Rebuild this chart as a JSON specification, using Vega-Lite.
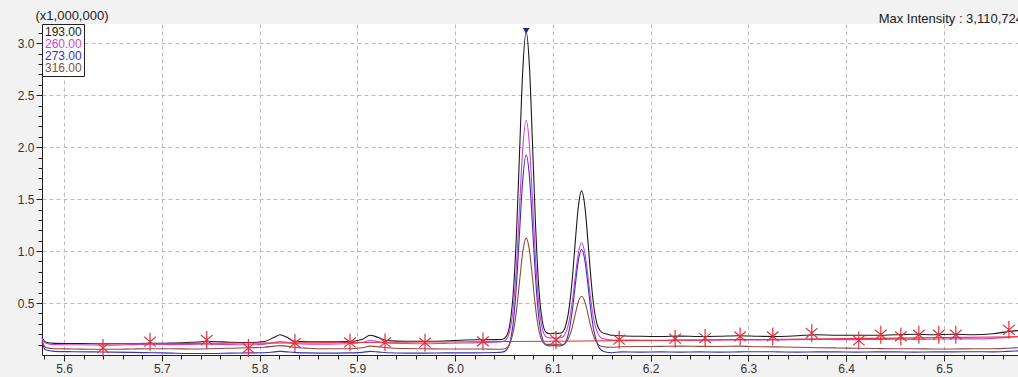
{
  "$schema": "https://vega.github.io/schema/vega-lite/v6.json",
  "width": 976,
  "height": 331,
  "autosize": {"type": "none"},
  "padding": {"left": 42, "top": 24, "right": 0, "bottom": 22},
  "background": "#f2f2f2",
  "config": {
    "font": "Liberation Sans",
    "view": {"fill": "white", "stroke": null},
    "axis": {"labelOverlap": false, "labelBound": false}
  },
  "title": {
    "text": "Max Intensity : 3,110,724",
    "anchor": "end",
    "frame": "group",
    "fontSize": 13,
    "fontWeight": "normal",
    "color": "#222222",
    "offset": -17,
    "dx": 5
  },
  "datasets": {
    "traces": [
      {"time":5.5775,"intensity":0.17,"mz":"193.00"},{"time":5.581,"intensity":0.125,"mz":"193.00"},{"time":5.59,"intensity":0.112,"mz":"193.00"},{"time":5.61,"intensity":0.11,"mz":"193.00"},{"time":5.63,"intensity":0.108,"mz":"193.00"},{"time":5.65,"intensity":0.11,"mz":"193.00"},{"time":5.67,"intensity":0.11,"mz":"193.00"},{"time":5.69,"intensity":0.112,"mz":"193.00"},{"time":5.71,"intensity":0.115,"mz":"193.00"},{"time":5.73,"intensity":0.122,"mz":"193.00"},{"time":5.75,"intensity":0.13,"mz":"193.00"},{"time":5.77,"intensity":0.122,"mz":"193.00"},{"time":5.79,"intensity":0.12,"mz":"193.00"},{"time":5.805,"intensity":0.13,"mz":"193.00"},{"time":5.815,"intensity":0.17,"mz":"193.00"},{"time":5.821,"intensity":0.195,"mz":"193.00"},{"time":5.828,"intensity":0.17,"mz":"193.00"},{"time":5.835,"intensity":0.135,"mz":"193.00"},{"time":5.85,"intensity":0.128,"mz":"193.00"},{"time":5.87,"intensity":0.128,"mz":"193.00"},{"time":5.89,"intensity":0.13,"mz":"193.00"},{"time":5.905,"intensity":0.15,"mz":"193.00"},{"time":5.913,"intensity":0.19,"mz":"193.00"},{"time":5.921,"intensity":0.17,"mz":"193.00"},{"time":5.93,"intensity":0.14,"mz":"193.00"},{"time":5.95,"intensity":0.132,"mz":"193.00"},{"time":5.97,"intensity":0.132,"mz":"193.00"},{"time":5.99,"intensity":0.135,"mz":"193.00"},{"time":6.01,"intensity":0.145,"mz":"193.00"},{"time":6.03,"intensity":0.147,"mz":"193.00"},{"time":6.04,"intensity":0.148,"mz":"193.00"},
      {"time":6.048,"intensity":0.149,"mz":"193.00"},{"time":6.052,"intensity":0.174,"mz":"193.00"},{"time":6.056,"intensity":0.295,"mz":"193.00"},{"time":6.06,"intensity":0.667,"mz":"193.00"},{"time":6.063,"intensity":1.22,"mz":"193.00"},{"time":6.066,"intensity":1.972,"mz":"193.00"},{"time":6.069,"intensity":2.703,"mz":"193.00"},{"time":6.0727,"intensity":3.11,"mz":"193.00"},{"time":6.076,"intensity":2.781,"mz":"193.00"},{"time":6.079,"intensity":2.077,"mz":"193.00"},{"time":6.082,"intensity":1.317,"mz":"193.00"},{"time":6.085,"intensity":0.737,"mz":"193.00"},{"time":6.089,"intensity":0.337,"mz":"193.00"},{"time":6.093,"intensity":0.219,"mz":"193.00"},{"time":6.097,"intensity":0.205,"mz":"193.00"},{"time":6.101,"intensity":0.21,"mz":"193.00"},{"time":6.105,"intensity":0.208,"mz":"193.00"},{"time":6.109,"intensity":0.215,"mz":"193.00"},{"time":6.113,"intensity":0.28,"mz":"193.00"},{"time":6.117,"intensity":0.477,"mz":"193.00"},{"time":6.12,"intensity":0.748,"mz":"193.00"},{"time":6.123,"intensity":1.102,"mz":"193.00"},{"time":6.126,"intensity":1.424,"mz":"193.00"},{"time":6.1294,"intensity":1.58,"mz":"193.00"},{"time":6.133,"intensity":1.407,"mz":"193.00"},{"time":6.136,"intensity":1.078,"mz":"193.00"},{"time":6.139,"intensity":0.727,"mz":"193.00"},{"time":6.142,"intensity":0.457,"mz":"193.00"},{"time":6.146,"intensity":0.274,"mz":"193.00"},{"time":6.15,"intensity":0.218,"mz":"193.00"},{"time":6.155,"intensity":0.202,"mz":"193.00"},{"time":6.16,"intensity":0.19,"mz":"193.00"},
      {"time":6.17,"intensity":0.185,"mz":"193.00"},{"time":6.19,"intensity":0.18,"mz":"193.00"},{"time":6.21,"intensity":0.178,"mz":"193.00"},{"time":6.23,"intensity":0.182,"mz":"193.00"},{"time":6.25,"intensity":0.178,"mz":"193.00"},{"time":6.27,"intensity":0.18,"mz":"193.00"},{"time":6.29,"intensity":0.185,"mz":"193.00"},{"time":6.31,"intensity":0.18,"mz":"193.00"},{"time":6.33,"intensity":0.178,"mz":"193.00"},{"time":6.35,"intensity":0.185,"mz":"193.00"},{"time":6.37,"intensity":0.195,"mz":"193.00"},{"time":6.39,"intensity":0.19,"mz":"193.00"},{"time":6.41,"intensity":0.19,"mz":"193.00"},{"time":6.43,"intensity":0.19,"mz":"193.00"},{"time":6.45,"intensity":0.195,"mz":"193.00"},{"time":6.47,"intensity":0.2,"mz":"193.00"},{"time":6.49,"intensity":0.195,"mz":"193.00"},{"time":6.51,"intensity":0.2,"mz":"193.00"},{"time":6.53,"intensity":0.195,"mz":"193.00"},{"time":6.55,"intensity":0.205,"mz":"193.00"},{"time":6.565,"intensity":0.225,"mz":"193.00"},{"time":6.5757,"intensity":0.235,"mz":"193.00"},

      {"time":5.5775,"intensity":0.16,"mz":"260.00"},{"time":5.581,"intensity":0.115,"mz":"260.00"},{"time":5.59,"intensity":0.1,"mz":"260.00"},{"time":5.61,"intensity":0.098,"mz":"260.00"},{"time":5.63,"intensity":0.096,"mz":"260.00"},{"time":5.65,"intensity":0.095,"mz":"260.00"},{"time":5.67,"intensity":0.1,"mz":"260.00"},{"time":5.69,"intensity":0.105,"mz":"260.00"},{"time":5.71,"intensity":0.1,"mz":"260.00"},{"time":5.73,"intensity":0.102,"mz":"260.00"},{"time":5.75,"intensity":0.105,"mz":"260.00"},{"time":5.77,"intensity":0.1,"mz":"260.00"},{"time":5.79,"intensity":0.098,"mz":"260.00"},{"time":5.805,"intensity":0.105,"mz":"260.00"},{"time":5.815,"intensity":0.12,"mz":"260.00"},{"time":5.821,"intensity":0.13,"mz":"260.00"},{"time":5.828,"intensity":0.122,"mz":"260.00"},{"time":5.835,"intensity":0.11,"mz":"260.00"},{"time":5.85,"intensity":0.105,"mz":"260.00"},{"time":5.87,"intensity":0.105,"mz":"260.00"},{"time":5.89,"intensity":0.108,"mz":"260.00"},{"time":5.905,"intensity":0.12,"mz":"260.00"},{"time":5.913,"intensity":0.14,"mz":"260.00"},{"time":5.921,"intensity":0.13,"mz":"260.00"},{"time":5.93,"intensity":0.115,"mz":"260.00"},{"time":5.95,"intensity":0.11,"mz":"260.00"},{"time":5.97,"intensity":0.108,"mz":"260.00"},{"time":5.99,"intensity":0.112,"mz":"260.00"},{"time":6.01,"intensity":0.115,"mz":"260.00"},{"time":6.03,"intensity":0.12,"mz":"260.00"},{"time":6.04,"intensity":0.122,"mz":"260.00"},
      {"time":6.048,"intensity":0.128,"mz":"260.00"},{"time":6.052,"intensity":0.146,"mz":"260.00"},{"time":6.056,"intensity":0.234,"mz":"260.00"},{"time":6.06,"intensity":0.502,"mz":"260.00"},{"time":6.063,"intensity":0.9,"mz":"260.00"},{"time":6.066,"intensity":1.441,"mz":"260.00"},{"time":6.069,"intensity":1.967,"mz":"260.00"},{"time":6.0727,"intensity":2.26,"mz":"260.00"},{"time":6.076,"intensity":2.023,"mz":"260.00"},{"time":6.079,"intensity":1.517,"mz":"260.00"},{"time":6.082,"intensity":0.966,"mz":"260.00"},{"time":6.085,"intensity":0.55,"mz":"260.00"},{"time":6.089,"intensity":0.26,"mz":"260.00"},{"time":6.093,"intensity":0.175,"mz":"260.00"},{"time":6.097,"intensity":0.164,"mz":"260.00"},{"time":6.101,"intensity":0.165,"mz":"260.00"},{"time":6.105,"intensity":0.162,"mz":"260.00"},{"time":6.109,"intensity":0.168,"mz":"260.00"},{"time":6.113,"intensity":0.21,"mz":"260.00"},{"time":6.117,"intensity":0.344,"mz":"260.00"},{"time":6.12,"intensity":0.527,"mz":"260.00"},{"time":6.123,"intensity":0.762,"mz":"260.00"},{"time":6.126,"intensity":0.976,"mz":"260.00"},{"time":6.1294,"intensity":1.08,"mz":"260.00"},{"time":6.133,"intensity":0.965,"mz":"260.00"},{"time":6.136,"intensity":0.746,"mz":"260.00"},{"time":6.139,"intensity":0.513,"mz":"260.00"},{"time":6.142,"intensity":0.334,"mz":"260.00"},{"time":6.146,"intensity":0.206,"mz":"260.00"},{"time":6.15,"intensity":0.162,"mz":"260.00"},{"time":6.155,"intensity":0.151,"mz":"260.00"},{"time":6.16,"intensity":0.145,"mz":"260.00"},
      {"time":6.17,"intensity":0.145,"mz":"260.00"},{"time":6.19,"intensity":0.142,"mz":"260.00"},{"time":6.21,"intensity":0.14,"mz":"260.00"},{"time":6.23,"intensity":0.145,"mz":"260.00"},{"time":6.25,"intensity":0.142,"mz":"260.00"},{"time":6.27,"intensity":0.145,"mz":"260.00"},{"time":6.29,"intensity":0.148,"mz":"260.00"},{"time":6.31,"intensity":0.145,"mz":"260.00"},{"time":6.33,"intensity":0.145,"mz":"260.00"},{"time":6.35,"intensity":0.148,"mz":"260.00"},{"time":6.37,"intensity":0.15,"mz":"260.00"},{"time":6.39,"intensity":0.148,"mz":"260.00"},{"time":6.41,"intensity":0.148,"mz":"260.00"},{"time":6.43,"intensity":0.15,"mz":"260.00"},{"time":6.45,"intensity":0.152,"mz":"260.00"},{"time":6.47,"intensity":0.15,"mz":"260.00"},{"time":6.49,"intensity":0.152,"mz":"260.00"},{"time":6.51,"intensity":0.155,"mz":"260.00"},{"time":6.53,"intensity":0.155,"mz":"260.00"},{"time":6.55,"intensity":0.16,"mz":"260.00"},{"time":6.565,"intensity":0.17,"mz":"260.00"},{"time":6.5757,"intensity":0.175,"mz":"260.00"},

      {"time":5.5775,"intensity":0.12,"mz":"273.00"},{"time":5.581,"intensity":0.05,"mz":"273.00"},{"time":5.59,"intensity":0.035,"mz":"273.00"},{"time":5.61,"intensity":0.032,"mz":"273.00"},{"time":5.63,"intensity":0.03,"mz":"273.00"},{"time":5.65,"intensity":0.028,"mz":"273.00"},{"time":5.67,"intensity":0.025,"mz":"273.00"},{"time":5.69,"intensity":0.022,"mz":"273.00"},{"time":5.71,"intensity":0.018,"mz":"273.00"},{"time":5.73,"intensity":0.015,"mz":"273.00"},{"time":5.75,"intensity":0.015,"mz":"273.00"},{"time":5.77,"intensity":0.018,"mz":"273.00"},{"time":5.79,"intensity":0.02,"mz":"273.00"},{"time":5.805,"intensity":0.022,"mz":"273.00"},{"time":5.815,"intensity":0.03,"mz":"273.00"},{"time":5.821,"intensity":0.035,"mz":"273.00"},{"time":5.828,"intensity":0.03,"mz":"273.00"},{"time":5.835,"intensity":0.025,"mz":"273.00"},{"time":5.85,"intensity":0.02,"mz":"273.00"},{"time":5.87,"intensity":0.018,"mz":"273.00"},{"time":5.89,"intensity":0.02,"mz":"273.00"},{"time":5.905,"intensity":0.025,"mz":"273.00"},{"time":5.913,"intensity":0.035,"mz":"273.00"},{"time":5.921,"intensity":0.03,"mz":"273.00"},{"time":5.93,"intensity":0.022,"mz":"273.00"},{"time":5.95,"intensity":0.018,"mz":"273.00"},{"time":5.97,"intensity":0.018,"mz":"273.00"},{"time":5.99,"intensity":0.02,"mz":"273.00"},{"time":6.01,"intensity":0.02,"mz":"273.00"},{"time":6.03,"intensity":0.022,"mz":"273.00"},{"time":6.04,"intensity":0.024,"mz":"273.00"},
      {"time":6.048,"intensity":0.028,"mz":"273.00"},{"time":6.052,"intensity":0.043,"mz":"273.00"},{"time":6.056,"intensity":0.118,"mz":"273.00"},{"time":6.06,"intensity":0.357,"mz":"273.00"},{"time":6.063,"intensity":0.712,"mz":"273.00"},{"time":6.066,"intensity":1.194,"mz":"273.00"},{"time":6.069,"intensity":1.664,"mz":"273.00"},{"time":6.0727,"intensity":1.925,"mz":"273.00"},{"time":6.076,"intensity":1.719,"mz":"273.00"},{"time":6.079,"intensity":1.267,"mz":"273.00"},{"time":6.082,"intensity":0.781,"mz":"273.00"},{"time":6.085,"intensity":0.415,"mz":"273.00"},{"time":6.089,"intensity":0.167,"mz":"273.00"},{"time":6.093,"intensity":0.097,"mz":"273.00"},{"time":6.097,"intensity":0.088,"mz":"273.00"},{"time":6.101,"intensity":0.09,"mz":"273.00"},{"time":6.105,"intensity":0.087,"mz":"273.00"},{"time":6.109,"intensity":0.089,"mz":"273.00"},{"time":6.113,"intensity":0.123,"mz":"273.00"},{"time":6.117,"intensity":0.254,"mz":"273.00"},{"time":6.12,"intensity":0.438,"mz":"273.00"},{"time":6.123,"intensity":0.68,"mz":"273.00"},{"time":6.126,"intensity":0.906,"mz":"273.00"},{"time":6.1294,"intensity":1.015,"mz":"273.00"},{"time":6.133,"intensity":0.894,"mz":"273.00"},{"time":6.136,"intensity":0.663,"mz":"273.00"},{"time":6.139,"intensity":0.418,"mz":"273.00"},{"time":6.142,"intensity":0.229,"mz":"273.00"},{"time":6.146,"intensity":0.094,"mz":"273.00"},{"time":6.15,"intensity":0.043,"mz":"273.00"},{"time":6.155,"intensity":0.026,"mz":"273.00"},{"time":6.16,"intensity":0.022,"mz":"273.00"},
      {"time":6.17,"intensity":0.03,"mz":"273.00"},{"time":6.19,"intensity":0.028,"mz":"273.00"},{"time":6.21,"intensity":0.03,"mz":"273.00"},{"time":6.23,"intensity":0.028,"mz":"273.00"},{"time":6.25,"intensity":0.03,"mz":"273.00"},{"time":6.27,"intensity":0.028,"mz":"273.00"},{"time":6.29,"intensity":0.03,"mz":"273.00"},{"time":6.31,"intensity":0.032,"mz":"273.00"},{"time":6.33,"intensity":0.03,"mz":"273.00"},{"time":6.35,"intensity":0.028,"mz":"273.00"},{"time":6.37,"intensity":0.03,"mz":"273.00"},{"time":6.39,"intensity":0.03,"mz":"273.00"},{"time":6.41,"intensity":0.028,"mz":"273.00"},{"time":6.43,"intensity":0.03,"mz":"273.00"},{"time":6.45,"intensity":0.03,"mz":"273.00"},{"time":6.47,"intensity":0.028,"mz":"273.00"},{"time":6.49,"intensity":0.03,"mz":"273.00"},{"time":6.51,"intensity":0.03,"mz":"273.00"},{"time":6.53,"intensity":0.032,"mz":"273.00"},{"time":6.55,"intensity":0.03,"mz":"273.00"},{"time":6.565,"intensity":0.035,"mz":"273.00"},{"time":6.5757,"intensity":0.04,"mz":"273.00"},

      {"time":5.5775,"intensity":0.14,"mz":"316.00"},{"time":5.581,"intensity":0.075,"mz":"316.00"},{"time":5.59,"intensity":0.06,"mz":"316.00"},{"time":5.61,"intensity":0.058,"mz":"316.00"},{"time":5.63,"intensity":0.055,"mz":"316.00"},{"time":5.65,"intensity":0.055,"mz":"316.00"},{"time":5.67,"intensity":0.058,"mz":"316.00"},{"time":5.69,"intensity":0.06,"mz":"316.00"},{"time":5.71,"intensity":0.06,"mz":"316.00"},{"time":5.73,"intensity":0.058,"mz":"316.00"},{"time":5.75,"intensity":0.06,"mz":"316.00"},{"time":5.77,"intensity":0.065,"mz":"316.00"},{"time":5.79,"intensity":0.07,"mz":"316.00"},{"time":5.805,"intensity":0.075,"mz":"316.00"},{"time":5.815,"intensity":0.085,"mz":"316.00"},{"time":5.821,"intensity":0.09,"mz":"316.00"},{"time":5.828,"intensity":0.085,"mz":"316.00"},{"time":5.835,"intensity":0.075,"mz":"316.00"},{"time":5.85,"intensity":0.065,"mz":"316.00"},{"time":5.87,"intensity":0.06,"mz":"316.00"},{"time":5.89,"intensity":0.06,"mz":"316.00"},{"time":5.905,"intensity":0.07,"mz":"316.00"},{"time":5.913,"intensity":0.085,"mz":"316.00"},{"time":5.921,"intensity":0.08,"mz":"316.00"},{"time":5.93,"intensity":0.07,"mz":"316.00"},{"time":5.95,"intensity":0.062,"mz":"316.00"},{"time":5.97,"intensity":0.06,"mz":"316.00"},{"time":5.99,"intensity":0.058,"mz":"316.00"},{"time":6.01,"intensity":0.058,"mz":"316.00"},{"time":6.03,"intensity":0.058,"mz":"316.00"},{"time":6.04,"intensity":0.056,"mz":"316.00"},
      {"time":6.048,"intensity":0.056,"mz":"316.00"},{"time":6.052,"intensity":0.065,"mz":"316.00"},{"time":6.056,"intensity":0.112,"mz":"316.00"},{"time":6.06,"intensity":0.246,"mz":"316.00"},{"time":6.063,"intensity":0.445,"mz":"316.00"},{"time":6.066,"intensity":0.716,"mz":"316.00"},{"time":6.069,"intensity":0.978,"mz":"316.00"},{"time":6.0727,"intensity":1.125,"mz":"316.00"},{"time":6.076,"intensity":1.007,"mz":"316.00"},{"time":6.079,"intensity":0.753,"mz":"316.00"},{"time":6.082,"intensity":0.478,"mz":"316.00"},{"time":6.085,"intensity":0.272,"mz":"316.00"},{"time":6.089,"intensity":0.135,"mz":"316.00"},{"time":6.093,"intensity":0.102,"mz":"316.00"},{"time":6.097,"intensity":0.102,"mz":"316.00"},{"time":6.101,"intensity":0.105,"mz":"316.00"},{"time":6.105,"intensity":0.101,"mz":"316.00"},{"time":6.109,"intensity":0.097,"mz":"316.00"},{"time":6.113,"intensity":0.117,"mz":"316.00"},{"time":6.117,"intensity":0.182,"mz":"316.00"},{"time":6.12,"intensity":0.274,"mz":"316.00"},{"time":6.123,"intensity":0.398,"mz":"316.00"},{"time":6.126,"intensity":0.51,"mz":"316.00"},{"time":6.1294,"intensity":0.565,"mz":"316.00"},{"time":6.133,"intensity":0.504,"mz":"316.00"},{"time":6.136,"intensity":0.389,"mz":"316.00"},{"time":6.139,"intensity":0.266,"mz":"316.00"},{"time":6.142,"intensity":0.172,"mz":"316.00"},{"time":6.146,"intensity":0.104,"mz":"316.00"},{"time":6.15,"intensity":0.081,"mz":"316.00"},{"time":6.155,"intensity":0.076,"mz":"316.00"},{"time":6.16,"intensity":0.075,"mz":"316.00"},
      {"time":6.17,"intensity":0.08,"mz":"316.00"},{"time":6.19,"intensity":0.082,"mz":"316.00"},{"time":6.21,"intensity":0.083,"mz":"316.00"},{"time":6.23,"intensity":0.085,"mz":"316.00"},{"time":6.25,"intensity":0.083,"mz":"316.00"},{"time":6.27,"intensity":0.082,"mz":"316.00"},{"time":6.29,"intensity":0.085,"mz":"316.00"},{"time":6.31,"intensity":0.08,"mz":"316.00"},{"time":6.33,"intensity":0.078,"mz":"316.00"},{"time":6.35,"intensity":0.075,"mz":"316.00"},{"time":6.37,"intensity":0.07,"mz":"316.00"},{"time":6.39,"intensity":0.068,"mz":"316.00"},{"time":6.41,"intensity":0.065,"mz":"316.00"},{"time":6.43,"intensity":0.062,"mz":"316.00"},{"time":6.45,"intensity":0.06,"mz":"316.00"},{"time":6.47,"intensity":0.06,"mz":"316.00"},{"time":6.49,"intensity":0.058,"mz":"316.00"},{"time":6.51,"intensity":0.058,"mz":"316.00"},{"time":6.53,"intensity":0.06,"mz":"316.00"},{"time":6.55,"intensity":0.06,"mz":"316.00"},{"time":6.565,"intensity":0.065,"mz":"316.00"},{"time":6.5757,"intensity":0.07,"mz":"316.00"}
    ],
    "baseline": [
      {"time":5.637,"intensity":0.107},{"time":5.9,"intensity":0.12},{"time":6.1,"intensity":0.133},{"time":6.3,"intensity":0.148},{"time":6.45,"intensity":0.162},{"time":6.5757,"intensity":0.175}
    ],
    "integration": [
      {"time":5.6399,"intensity":0.067},{"time":5.688,"intensity":0.128},{"time":5.746,"intensity":0.145},{"time":5.7886,"intensity":0.067},{"time":5.8362,"intensity":0.115},{"time":5.8925,"intensity":0.121},{"time":5.9283,"intensity":0.121},{"time":5.9692,"intensity":0.118},{"time":6.0285,"intensity":0.131},{"time":6.1032,"intensity":0.145},{"time":6.1678,"intensity":0.147},{"time":6.225,"intensity":0.157},{"time":6.2557,"intensity":0.163},{"time":6.2915,"intensity":0.179},{"time":6.3249,"intensity":0.179},{"time":6.3648,"intensity":0.211},{"time":6.4129,"intensity":0.14},{"time":6.4354,"intensity":0.195},{"time":6.4559,"intensity":0.179},{"time":6.4743,"intensity":0.195},{"time":6.4947,"intensity":0.195},{"time":6.5121,"intensity":0.195},{"time":6.5664,"intensity":0.243}
    ],
    "apex": [
      {"time":6.0727,"intensity":3.11}
    ]
  },
  "layer": [
    {
      "data": {"name": "traces"},
      "mark": {"type": "line", "interpolate": "monotone", "strokeWidth": 1.1},
      "encoding": {
        "x": {
          "field": "time",
          "type": "quantitative",
          "scale": {"domain": [5.5775, 6.5757], "nice": false, "zero": false},
          "axis": {
            "title": null,
            "tickCount": 200,
            "values": [5.58,5.6,5.62,5.64,5.66,5.68,5.7,5.72,5.74,5.76,5.78,5.8,5.82,5.84,5.86,5.88,5.9,5.92,5.94,5.96,5.98,6.0,6.02,6.04,6.06,6.08,6.1,6.12,6.14,6.16,6.18,6.2,6.22,6.24,6.26,6.28,6.3,6.32,6.34,6.36,6.38,6.4,6.42,6.44,6.46,6.48,6.5,6.52,6.54,6.56],
            "labelExpr": "abs(datum.value*10 - round(datum.value*10)) < 0.001 ? format(datum.value, '.1f') : ''",
            "labelOverlap": false,
            "labelFlush": false,
            "labelFontSize": 12,
            "labelColor": "#333333",
            "labelPadding": 2,
            "domainColor": "#222222",
            "tickColor": "#222222",
            "tickSize": {"condition": {"test": "abs(datum.value*10 - round(datum.value*10)) < 0.001", "value": 6}, "value": 4},
            "grid": true,
            "gridColor": "#bcbcbc",
            "gridDash": [4, 3],
            "gridOpacity": {"condition": {"test": "abs(datum.value*10 - round(datum.value*10)) < 0.001", "value": 1}, "value": 0}
          }
        },
        "y": {
          "field": "intensity",
          "type": "quantitative",
          "scale": {"domain": [0, 3.186], "nice": false, "zero": false},
          "axis": {
            "title": "(x1,000,000)",
            "titleAngle": 0,
            "titleAlign": "left",
            "titleBaseline": "alphabetic",
            "titleX": -7,
            "titleY": -5,
            "titleFontSize": 13,
            "titleFontWeight": "normal",
            "titleColor": "#222222",
            "tickCount": 200,
            "values": [0.1,0.2,0.3,0.4,0.5,0.6,0.7,0.8,0.9,1.0,1.1,1.2,1.3,1.4,1.5,1.6,1.7,1.8,1.9,2.0,2.1,2.2,2.3,2.4,2.5,2.6,2.7,2.8,2.9,3.0,3.1],
            "labelExpr": "abs(datum.value*2 - round(datum.value*2)) < 0.001 ? format(datum.value, '.1f') : ''",
            "labelOverlap": false,
            "labelFlush": false,
            "labelFontSize": 12,
            "labelColor": "#333333",
            "labelPadding": 2,
            "domainColor": "#222222",
            "tickColor": "#222222",
            "tickSize": {"condition": {"test": "abs(datum.value*2 - round(datum.value*2)) < 0.001", "value": 6}, "value": 4},
            "grid": true,
            "gridColor": "#bcbcbc",
            "gridDash": [4, 3],
            "gridOpacity": {"condition": {"test": "abs(datum.value*2 - round(datum.value*2)) < 0.001", "value": 1}, "value": 0}
          }
        },
        "color": {
          "field": "mz",
          "type": "nominal",
          "scale": {
            "domain": ["193.00", "260.00", "273.00", "316.00"],
            "range": ["#1a1a1a", "#d33fd3", "#3a30c4", "#8e4a3c"]
          },
          "legend": {
            "title": null,
            "orient": "top-left",
            "offset": 0,
            "padding": 2,
            "strokeColor": "#222222",
            "fillColor": "white",
            "symbolSize": 1,
            "symbolStrokeWidth": 0,
            "symbolOpacity": 0,
            "labelOffset": -11,
            "labelFontSize": 12,
            "rowPadding": 0,
            "encode": {
              "labels": {"update": {"fill": {"scale": "color", "field": "value"}}}
            }
          }
        }
      }
    },
    {
      "data": {"name": "baseline"},
      "mark": {"type": "line", "color": "#e4313c", "strokeWidth": 1.1},
      "encoding": {
        "x": {"field": "time", "type": "quantitative"},
        "y": {"field": "intensity", "type": "quantitative"}
      }
    },
    {
      "data": {"name": "integration"},
      "mark": {
        "type": "point",
        "shape": "M0,-1L0,1M-0.65,-0.55L0.65,0.55M-0.65,0.55L0.65,-0.55",
        "size": 320,
        "filled": false,
        "stroke": "#e2303a",
        "strokeWidth": 1.2,
        "opacity": 1
      },
      "encoding": {
        "x": {"field": "time", "type": "quantitative"},
        "y": {"field": "intensity", "type": "quantitative"}
      }
    },
    {
      "data": {"name": "apex"},
      "mark": {"type": "point", "shape": "triangle-down", "filled": true, "color": "#1d2b7a", "size": 45, "yOffset": -1, "opacity": 1},
      "encoding": {
        "x": {"field": "time", "type": "quantitative"},
        "y": {"field": "intensity", "type": "quantitative"}
      }
    },
    {
      "mark": {"type": "rule", "color": "#333333", "strokeWidth": 1},
      "encoding": {"y": {"datum": 3.186}}
    }
  ]
}
